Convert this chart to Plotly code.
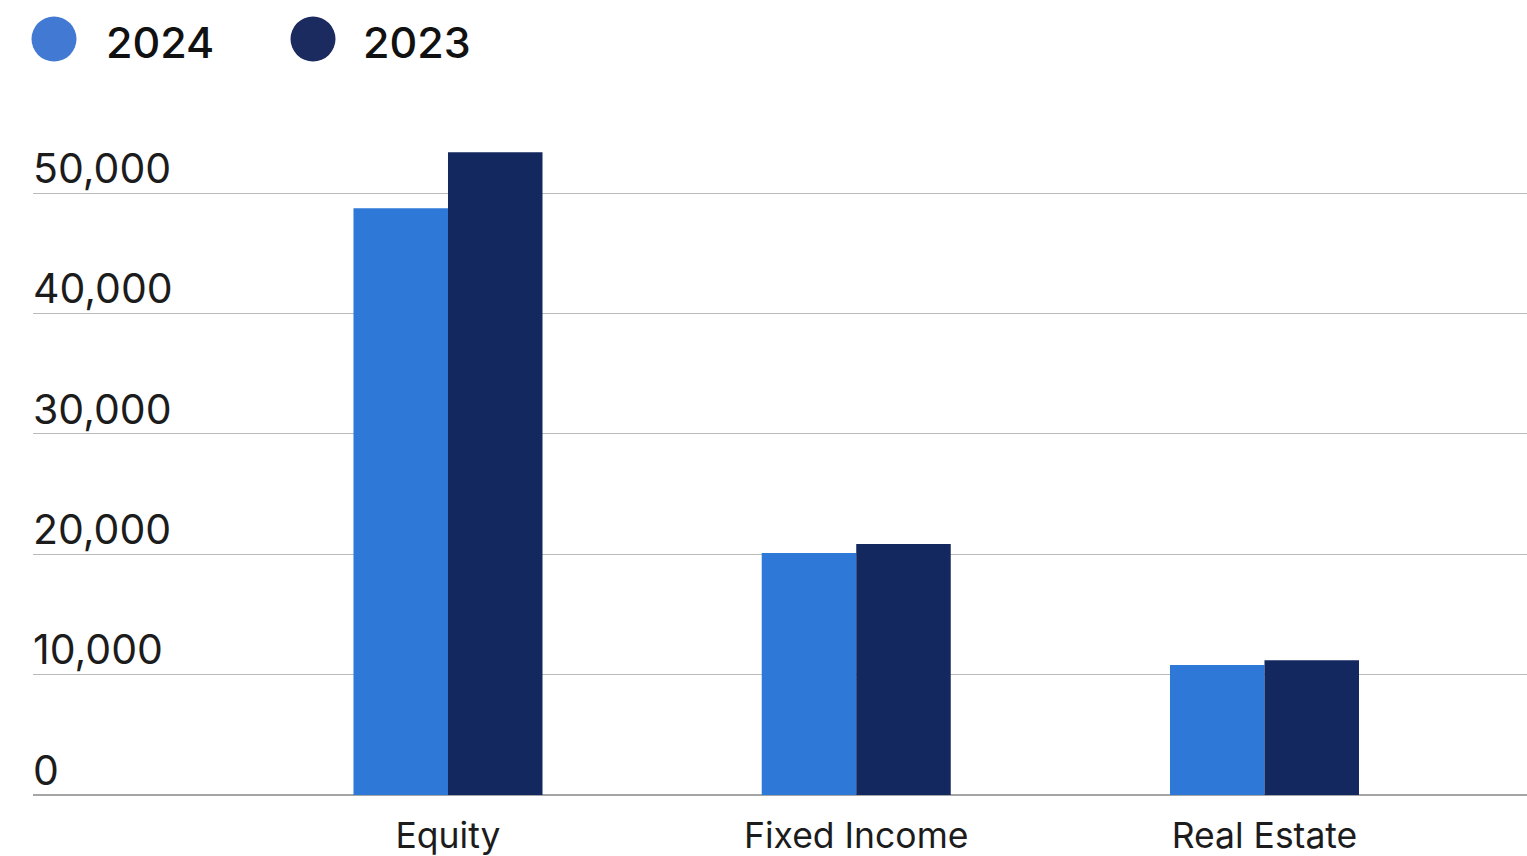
import plotly.graph_objects as go

categories = ["Equity", "Fixed Income", "Real Estate"]
values_2024 = [48750, 20100, 10800]
values_2023 = [53400, 20850, 11200]
series_names = ["2024", "2023"]
tick_vals = [0, 10000, 20000, 30000, 40000, 50000]
tick_text = ["0", "10,000", "20,000", "30,000", "40,000", "50,000"]

c2024 = "#2E78D8"
c2023 = "#13285F"
leg2024 = "#4179D3"
leg2023 = "#1B2A5F"
FONT = "Inter"
TXT = "#1c1c1c"

fig = go.Figure()
fig.add_trace(go.Bar(x=categories, y=values_2024, name=series_names[0],
                     marker=dict(color=c2024, line=dict(width=0))))
fig.add_trace(go.Bar(x=categories, y=values_2023, name=series_names[1],
                     marker=dict(color=c2023, line=dict(width=0))))

W, H = 1527, 856
ml, mr, mt, mb = 33, 0, 133, 61
plot_w = W - ml - mr
plot_h = H - mt - mb

def px_to_paper_x(px):
    return (px - ml) / plot_w

def px_to_paper_y(py):
    return (H - mb - py) / plot_h

shapes = []
annotations = []
for name, col, cx, tx in [(series_names[0], leg2024, 54, 104), (series_names[1], leg2023, 313, 361)]:
    shapes.append(dict(type="circle", xref="paper", yref="paper",
                       xsizemode="pixel", ysizemode="pixel",
                       xanchor=px_to_paper_x(cx), yanchor=px_to_paper_y(39),
                       x0=-22.5, x1=22.5, y0=-22.5, y1=22.5,
                       fillcolor=col, line=dict(width=0)))
    annotations.append(dict(text=name, xref="paper", yref="paper",
                            x=px_to_paper_x(tx), y=px_to_paper_y(42),
                            xanchor="left", yanchor="middle", showarrow=False,
                            font=dict(family=FONT, size=43, color="#111111", weight=500)))

fig.update_layout(
    width=W, height=H,
    margin=dict(l=ml, r=mr, t=mt, b=mb, pad=0),
    paper_bgcolor="white", plot_bgcolor="white",
    barmode="group", bargap=0.537, bargroupgap=0,
    showlegend=False,
    font=dict(family=FONT, color=TXT),
    shapes=shapes, annotations=annotations,
    xaxis=dict(type="category", range=[-1.0165, 2.643], showgrid=False,
               showline=False, zeroline=False, ticks="",
               ticklabelstandoff=16,
               tickfont=dict(family=FONT, size=35.5, color=TXT),
               fixedrange=True),
    yaxis=dict(range=[0, 55000], tickvals=tick_vals, ticktext=tick_text,
               showgrid=True, gridcolor="#BBBBBB", gridwidth=1.3,
               zeroline=True, zerolinecolor="#A5A5A5", zerolinewidth=1.5,
               showline=False, ticks="",
               ticklabelposition="inside top",
               ticklabelshift=4,
               ticklabelstandoff=-3,
               tickfont=dict(family=FONT, size=41, color=TXT),
               fixedrange=True),
)

fig.write_html("out.html",
               config={"displayModeBar": False},
               post_script="document.body.style.margin='0px';document.body.style.overflow='hidden';")
